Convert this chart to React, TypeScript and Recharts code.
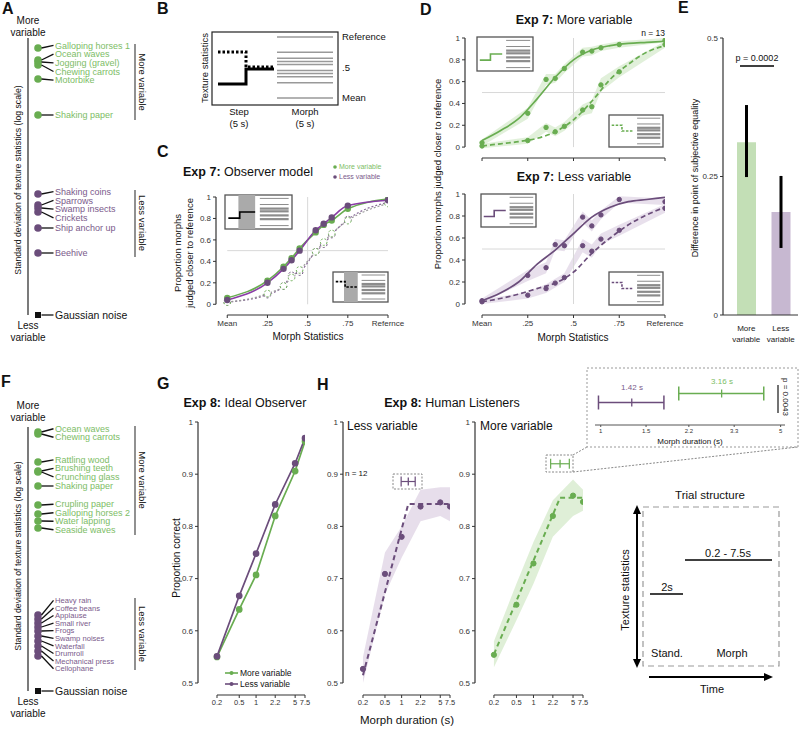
import React from "react";
import {
  ComposedChart,
  ScatterChart,
  BarChart,
  Scatter,
  Line,
  Area,
  Bar,
  Cell,
  XAxis,
  YAxis,
  ReferenceLine,
  ErrorBar,
} from "recharts";

const FONT = '"Liberation Sans", Arial, Helvetica, sans-serif';
const GREEN = "#69ad51";
const PURPLE = "#6b4d7b";
const GREEN_TXT = "#7dbd66";
const PURPLE_TXT = "#7a5a8b";
const GREEN_BAND = "#dcedd3";
const PURPLE_BAND = "#e4dae9";
const AXIS = "#333";

// A: exp 7 textures, log SD (arbitrary units)
const aMoreNames = ["Galloping horses 1", "Ocean waves", "Jogging (gravel)", "Chewing carrots", "Motorbike", "Shaking paper"];
const aMoreSd = [27.0, 25.8, 25.6, 25.3, 23.9, 20.3];
const aLessNames = ["Shaking coins", "Sparrows", "Swamp insects", "Crickets", "Ship anchor up", "Beehive"];
const aLessSd = [12.4, 11.3, 11.0, 10.6, 9.0, 6.5];
const aNoiseSd = 0.3;

// F: exp 8 textures
const fMoreNames = ["Ocean waves", "Chewing carrots", "Rattling wood", "Brushing teeth", "Crunching glass", "Shaking paper", "Crupling paper", "Galloping horses 2", "Water lapping", "Seaside waves"];
const fMoreSd = [25.9, 25.7, 22.9, 22.0, 21.9, 20.5, 18.6, 17.7, 17.0, 16.3];
const fLessNames = ["Heavy rain", "Coffee beans", "Applause", "Small river", "Frogs", "Swamp noises", "Waterfall", "Drumroll", "Mechanical press", "Cellophane"];
const fLessSd = [7.6, 7.2, 6.8, 6.4, 6.0, 5.5, 5.0, 4.5, 4.0, 3.5];
const fNoiseSd = 0;

// B/C/D: morph levels
const morphX = [0, 0.25, 0.35, 0.4, 0.45, 0.55, 0.6, 0.65, 0.75, 1];
const fitX = [0, 0.1, 0.2, 0.3, 0.4, 0.5, 0.6, 0.7, 0.8, 0.9, 1];
const morphTicks = [0, 0.25, 0.5, 0.75, 1];
const morphTickLabelsC = ["Mean", ".25", ".5", ".75", "Refernce"];
const morphTickLabelsD = ["Mean", ".25", ".5", ".75", "Reference"];
const propTicks = [0, 0.2, 0.4, 0.6, 0.8, 1];

// C: observer model
const cMoreStep = [0.06, 0.22, 0.35, 0.43, 0.52, 0.67, 0.74, 0.78, 0.89, 0.98];
const cLessStep = [0.04, 0.2, 0.33, 0.41, 0.5, 0.69, 0.75, 0.81, 0.92, 0.97];
const cMoreMorph = [0.02, 0.1, 0.17, 0.25, 0.32, 0.49, 0.58, 0.66, 0.78, 0.94];
const cLessMorph = [0.02, 0.09, 0.17, 0.27, 0.3, 0.49, 0.56, 0.65, 0.79, 0.95];

// D: listeners
const dMoreStep = [0.04, 0.31, 0.62, 0.63, 0.72, 0.87, 0.88, 0.91, 0.94, 0.98];
const dMoreStepErr = [0.03, 0.05, 0.05, 0.04, 0.04, 0.04, 0.04, 0.03, 0.03, 0.02];
const dMoreMorph = [0.01, 0.06, 0.18, 0.14, 0.19, 0.34, 0.37, 0.57, 0.69, 0.94];
const dMoreMorphErr = [0.02, 0.03, 0.04, 0.04, 0.04, 0.05, 0.06, 0.06, 0.05, 0.03];
const dMoreFit = [0.06, 0.15, 0.26, 0.44, 0.64, 0.8, 0.89, 0.93, 0.95, 0.96, 0.97];
const dMoreMorphFit = [0.01, 0.03, 0.05, 0.08, 0.14, 0.25, 0.42, 0.62, 0.76, 0.87, 0.93];
const dLessStep = [0.03, 0.26, 0.33, 0.54, 0.53, 0.79, 0.71, 0.81, 0.95, 0.93];
const dLessStepErr = [0.02, 0.05, 0.05, 0.05, 0.05, 0.05, 0.05, 0.04, 0.03, 0.03];
const dLessMorph = [0.02, 0.08, 0.14, 0.19, 0.24, 0.53, 0.48, 0.59, 0.67, 0.87];
const dLessMorphErr = [0.02, 0.03, 0.04, 0.04, 0.04, 0.06, 0.06, 0.05, 0.05, 0.04];
const dLessFit = [0.03, 0.1, 0.2, 0.36, 0.49, 0.64, 0.79, 0.88, 0.93, 0.95, 0.97];
const dLessMorphFit = [0.02, 0.05, 0.09, 0.14, 0.19, 0.29, 0.46, 0.6, 0.72, 0.81, 0.88];

// E: PSE difference
const eGroups = ["More", "Less"];
const ePse = [0.312, 0.186];
const eErrLow = [0.063, 0.065];
const eErrHigh = [0.067, 0.065];
const eColors = ["#c3dfb6", "#c7b8d1"];

// G/H: morph duration
const durX = [0.2, 0.5, 1, 2.2, 5, 7.5];
const corrTicks = [0.5, 0.6, 0.7, 0.8, 0.9, 1];
const gMore = [0.55, 0.641, 0.707, 0.82, 0.906, 0.963];
const gLess = [0.551, 0.667, 0.748, 0.842, 0.921, 0.969];
const hLessMean = [0.527, 0.709, 0.78, 0.838, 0.846, 0.838];
const hLessLo = [0.5, 0.67, 0.74, 0.81, 0.82, 0.81];
const hLessHi = [0.55, 0.75, 0.8, 0.87, 0.875, 0.875];
const hMoreMean = [0.554, 0.65, 0.729, 0.82, 0.859, 0.847];
const hMoreLo = [0.53, 0.62, 0.69, 0.78, 0.82, 0.83];
const hMoreHi = [0.58, 0.69, 0.77, 0.85, 0.89, 0.87];
// breakpoint [mid, lo, hi] and broken-stick fit ends
const hLessBreak = [1.32, 0.98, 1.76];
const hMoreBreak = [2.95, 2.01, 4.3];
const hLessFitStart = 0.515;
const hLessPlateau = 0.843;
const hMoreFitStart = 0.555;
const hMorePlateau = 0.855;
const breakLabels = ["1.42 s", "3.16 s"];
const insetTicks = [1, 1.5, 2.2, 3.3, 5];

const pts = (xs: number[], ys: number[]) => xs.map((x, i) => ({ x, y: ys[i] }));
const bandErr = (xs: number[], ys: number[], err: number[]) =>
  xs.map((x, i) => ({ x, band: [ys[i] - err[i], ys[i] + err[i]] }));
const bandLoHi = (xs: number[], lo: number[], hi: number[]) => xs.map((x, i) => ({ x, band: [lo[i], hi[i]] }));
const fmtProp = (v: number) => (v === 0 || v === 1 ? String(v) : v.toFixed(1));
const fmtCorr = (v: number) => (v === 1 ? "1" : v.toFixed(1));

// push overlapping labels apart (values sorted high to low)
function spreadLabels(vals: number[], gap: number): number[] {
  const pos = [...vals];
  for (let it = 0; it < 300; it++) {
    for (let i = 1; i < pos.length; i++) {
      const d = pos[i - 1] - pos[i];
      if (d < gap) {
        const push = (gap - d) / 2;
        pos[i - 1] += push;
        pos[i] -= push;
      }
    }
  }
  return pos;
}

function buildItems(names: string[], sds: number[], gap: number, kind: string, size: number) {
  const lbl = spreadLabels(sds, gap);
  return names.map((name, i) => ({ name, sd: sds[i], label: lbl[i], x: 0.625, kind, size }));
}

const aItems = [
  ...buildItems(aMoreNames, aMoreSd, 0.87, "more", 9),
  ...buildItems(aLessNames, aLessSd, 0.87, "less", 9),
  { name: "Gaussian noise", sd: aNoiseSd, label: aNoiseSd, x: 0.625, kind: "noise", size: 10.5 },
];
const fItems = [
  ...buildItems(fMoreNames, fMoreSd, 0.85, "more", 9),
  ...buildItems(fLessNames, fLessSd, 0.76, "less", 7.6),
  { name: "Gaussian noise", sd: fNoiseSd, label: fNoiseSd, x: 0.625, kind: "noise", size: 10.5 },
];

function ListMark(p: any) {
  const { cx, cy, payload, scale } = p;
  const ly = cy + (payload.sd - payload.label) * scale;
  const lx = cx + 17;
  const noise = payload.kind === "noise";
  const col = noise ? "#111" : payload.kind === "more" ? GREEN : PURPLE;
  const tcol = noise ? "#111" : payload.kind === "more" ? GREEN_TXT : PURPLE_TXT;
  return (
    <g>
      {noise ? (
        <rect x={cx - 3} y={cy - 3} width={6} height={6} fill={col} />
      ) : (
        <circle cx={cx} cy={cy} r={3.8} fill={col} />
      )}
      <line x1={cx + 3.5} y1={cy} x2={lx - 1.5} y2={ly} stroke="#111" strokeWidth={1.3} />
      <text x={lx} y={ly} dy="0.35em" fontSize={payload.size} fill={tcol}>
        {payload.name}
      </text>
    </g>
  );
}

function ListPanel({ top, height, marginTop, domain, items }: any) {
  const plotH = height - marginTop - 25;
  const scale = plotH / (domain[1] - domain[0]);
  return (
    <div style={{ position: "absolute", left: 0, top }}>
      <ScatterChart width={195} height={height} margin={{ top: marginTop, right: 7, bottom: 25, left: 28 }}>
        <XAxis type="number" dataKey="x" domain={[0, 10]} hide />
        <YAxis type="number" dataKey="sd" domain={domain} hide />
        <ReferenceLine
          segment={[{ x: 0, y: domain[0] }, { x: 0, y: domain[1] }]}
          stroke={AXIS}
          strokeWidth={1.3}
          ifOverflow="visible"
        />
        <Scatter data={items} shape={(p: any) => <ListMark {...p} scale={scale} />} isAnimationActive={false} />
      </ScatterChart>
    </div>
  );
}

// offset (matlab style) axis lines
function axisRefs(yLineX: number, xLineY: number, x0: number, x1: number, y0: number, y1: number) {
  return [
    <ReferenceLine key="ax" segment={[{ x: x0, y: xLineY }, { x: x1, y: xLineY }]} stroke={AXIS} strokeWidth={1.2} ifOverflow="visible" />,
    <ReferenceLine key="ay" segment={[{ x: yLineX, y: y0 }, { x: yLineX, y: y1 }]} stroke={AXIS} strokeWidth={1.2} ifOverflow="visible" />,
  ];
}

function halfGrid() {
  return [
    <ReferenceLine key="gv" segment={[{ x: 0.5, y: 0 }, { x: 0.5, y: 1 }]} stroke="#d8d8d8" ifOverflow="visible" />,
    <ReferenceLine key="gh" segment={[{ x: 0, y: 0.5 }, { x: 1, y: 0.5 }]} stroke="#d8d8d8" ifOverflow="visible" />,
  ];
}

function PanelC() {
  const openDot = (c: string) => ({ r: 3.3, fill: "#fff", stroke: c, strokeWidth: 1 });
  return (
    <div style={{ position: "absolute", left: 194, top: 192 }}>
      <ComposedChart width={214} height={143} margin={{ top: 5, right: 20, bottom: 0, left: 0 }}>
        <XAxis
          type="number"
          dataKey="x"
          domain={[-0.07, 1]}
          allowDataOverflow
          ticks={morphTicks}
          interval={0}
          tickFormatter={(v: number) => morphTickLabelsC[morphTicks.indexOf(v)]}
          axisLine={false}
          tickSize={3}
          height={20}
          tick={{ fontSize: 8, fill: AXIS }}
          tickLine={{ stroke: AXIS }}
        />
        <YAxis
          type="number"
          domain={[-0.1, 1]}
          allowDataOverflow
          ticks={propTicks}
          interval={0}
          width={22}
          axisLine={false}
          tickSize={3}
          tickFormatter={fmtProp}
          tick={{ fontSize: 8, fill: AXIS }}
          tickLine={{ stroke: AXIS }}
        />
        {halfGrid()}
        {axisRefs(-0.07, -0.1, 0, 1, 0, 1)}
        <Line data={pts(morphX, cLessMorph)} dataKey="y" type="monotone" stroke="#8a6b99" strokeWidth={1.2} strokeDasharray="2 2" dot={openDot(PURPLE)} isAnimationActive={false} />
        <Line data={pts(morphX, cMoreMorph)} dataKey="y" type="monotone" stroke="#999" strokeWidth={1.2} strokeDasharray="2 2" dot={openDot(GREEN)} isAnimationActive={false} />
        <Line data={pts(morphX, cMoreStep)} dataKey="y" type="monotone" stroke={GREEN} strokeWidth={1.6} dot={{ r: 2.4, fill: GREEN, stroke: GREEN }} isAnimationActive={false} />
        <Line data={pts(morphX, cLessStep)} dataKey="y" type="monotone" stroke="#8a3ca6" strokeWidth={1.6} dot={{ r: 2.4, fill: PURPLE, stroke: PURPLE }} isAnimationActive={false} />
      </ComposedChart>
    </div>
  );
}

function PanelD({ top, height, showLabels, color, band, step, stepErr, morph, morphErr, fit, morphFit }: any) {
  return (
    <div style={{ position: "absolute", left: 443, top }}>
      <ComposedChart width={246} height={height} margin={{ top: 5, right: 24, bottom: 0, left: 0 }}>
        <XAxis
          type="number"
          dataKey="x"
          domain={[-0.093, 1]}
          allowDataOverflow
          ticks={morphTicks}
          interval={0}
          tickFormatter={(v: number) => (showLabels ? morphTickLabelsD[morphTicks.indexOf(v)] : "")}
          axisLine={false}
          tickSize={3}
          height={showLabels ? 20 : 18}
          tick={{ fontSize: 8, fill: AXIS }}
          tickLine={{ stroke: AXIS }}
        />
        <YAxis
          type="number"
          domain={[-0.1, 1]}
          allowDataOverflow
          ticks={propTicks}
          interval={0}
          width={22}
          axisLine={false}
          tickSize={3}
          tickFormatter={fmtProp}
          tick={{ fontSize: 8, fill: AXIS }}
          tickLine={{ stroke: AXIS }}
        />
        {halfGrid()}
        {axisRefs(-0.093, -0.1, 0, 1, 0, 1)}
        <Area data={bandErr(morphX, morph, morphErr)} dataKey="band" type="linear" stroke="none" fill={band} fillOpacity={0.85} isAnimationActive={false} />
        <Area data={bandErr(morphX, step, stepErr)} dataKey="band" type="linear" stroke="none" fill={band} fillOpacity={0.85} isAnimationActive={false} />
        <Line data={pts(fitX, fit)} dataKey="y" type="monotone" stroke={color} strokeWidth={1.7} dot={false} isAnimationActive={false} />
        <Line data={pts(fitX, morphFit)} dataKey="y" type="monotone" stroke={color} strokeWidth={1.7} strokeDasharray="5 3" dot={false} isAnimationActive={false} />
        <Line data={pts(morphX, step)} dataKey="y" stroke="none" dot={{ r: 2.2, fill: color, stroke: color }} isAnimationActive={false} />
        <Line data={pts(morphX, morph)} dataKey="y" stroke="none" dot={{ r: 2.2, fill: color, stroke: color }} isAnimationActive={false} />
      </ComposedChart>
    </div>
  );
}

function ETick(p: any) {
  return (
    <g transform={`translate(${p.x},${p.y})`}>
      <text y={8} textAnchor="middle" fontSize={8} fill="#222">
        {p.payload.value}
      </text>
      <text y={19} textAnchor="middle" fontSize={8} fill="#222">
        variable
      </text>
    </g>
  );
}

function PanelE() {
  const data = eGroups.map((name, i) => ({ name, value: ePse[i], err: [eErrLow[i], eErrHigh[i]] }));
  return (
    <div style={{ position: "absolute", left: 701, top: 33 }}>
      <BarChart width={99} height={312} data={data} margin={{ top: 5, right: 2, bottom: 0, left: 0 }}>
        <XAxis
          dataKey="name"
          height={30}
          interval={0}
          tick={<ETick />}
          tickLine={false}
          padding={{ left: 6, right: 0 }}
          axisLine={{ stroke: AXIS }}
        />
        <YAxis
          type="number"
          domain={[0, 0.5]}
          ticks={[0, 0.25, 0.5]}
          width={22}
          tickSize={3}
          tickFormatter={(v: number) => String(v)}
          tick={{ fontSize: 8, fill: AXIS }}
          axisLine={{ stroke: AXIS, strokeWidth: 1.2 }}
          tickLine={{ stroke: AXIS }}
        />
        <Bar dataKey="value" barSize={19} isAnimationActive={false}>
          {data.map((d, i) => (
            <Cell key={d.name} fill={eColors[i]} />
          ))}
          <ErrorBar dataKey="err" width={0} stroke="#000" strokeWidth={3} direction="y" />
        </Bar>
      </BarChart>
    </div>
  );
}

function durAxes(domainMin: number) {
  return [
    <XAxis
      key="x"
      type="number"
      dataKey="x"
      scale="log"
      domain={[domainMin, 7.5]}
      allowDataOverflow
      ticks={durX}
      interval={0}
      axisLine={false}
      tickSize={3}
      height={18}
      tick={{ fontSize: 7.5, fill: AXIS }}
      tickLine={{ stroke: AXIS }}
      tickFormatter={(v: number) => String(v)}
    />,
    <YAxis
      key="y"
      type="number"
      domain={[0.477, 1]}
      allowDataOverflow
      ticks={corrTicks}
      interval={0}
      width={24}
      axisLine={false}
      tickSize={3}
      tick={{ fontSize: 8, fill: AXIS }}
      tickLine={{ stroke: AXIS }}
      tickFormatter={fmtCorr}
    />,
  ];
}

function PanelG() {
  return (
    <div style={{ position: "absolute", left: 174, top: 417 }}>
      <ComposedChart width={139} height={296} margin={{ top: 5, right: 8, bottom: 0, left: 0 }}>
        {durAxes(0.0915)}
        {axisRefs(0.0915, 0.477, 0.2, 7.5, 0.5, 1)}
        <Line data={pts(durX, gMore)} dataKey="y" type="linear" stroke={GREEN} strokeWidth={1.7} dot={{ r: 2.5, fill: GREEN, stroke: GREEN }} isAnimationActive={false} />
        <Line data={pts(durX, gLess)} dataKey="y" type="linear" stroke={PURPLE} strokeWidth={1.7} dot={{ r: 2.5, fill: PURPLE, stroke: PURPLE }} isAnimationActive={false} />
      </ComposedChart>
    </div>
  );
}

const tickShape = (c: string) => (p: any) => (
  <line x1={p.cx} x2={p.cx} y1={p.cy - 4} y2={p.cy + 4} stroke={c} strokeWidth={1.3} />
);

function PanelH({ left, width, domainMin, color, band, mean, lo, hi, brk, brkY, fitStart, plateau }: any) {
  const fit = [
    { x: durX[0], y: fitStart },
    { x: brk[0], y: plateau },
    { x: durX[durX.length - 1], y: plateau },
  ];
  const bp = [{ x: brk[0], y: brkY, err: [brk[0] - brk[1], brk[2] - brk[0]] }];
  return (
    <div style={{ position: "absolute", left, top: 417 }}>
      <ComposedChart width={width} height={296} margin={{ top: 5, right: 8, bottom: 0, left: 0 }}>
        {durAxes(domainMin)}
        {axisRefs(domainMin, 0.477, 0.2, 7.5, 0.5, 1)}
        <Area data={bandLoHi(durX, lo, hi)} dataKey="band" type="linear" stroke="none" fill={band} fillOpacity={0.9} isAnimationActive={false} />
        <Line data={fit} dataKey="y" type="linear" stroke={color} strokeWidth={2} strokeDasharray="5 3.5" dot={false} isAnimationActive={false} />
        <Line data={pts(durX, mean)} dataKey="y" stroke="none" dot={{ r: 2.6, fill: color, stroke: color }} isAnimationActive={false} />
        <Scatter data={bp} dataKey="y" shape={tickShape(color)} isAnimationActive={false}>
          <ErrorBar dataKey="err" direction="x" width={5} stroke={color} strokeWidth={1.2} />
        </Scatter>
      </ComposedChart>
    </div>
  );
}

function BreakInset() {
  const less = [{ x: hLessBreak[0], y: 0.5, err: [hLessBreak[0] - hLessBreak[1], hLessBreak[2] - hLessBreak[0]] }];
  const more = [{ x: hMoreBreak[0], y: 0.7, err: [hMoreBreak[0] - hMoreBreak[1], hMoreBreak[2] - hMoreBreak[0]] }];
  return (
    <div style={{ position: "absolute", left: 590, top: 375 }}>
      <ScatterChart width={207} height={62} margin={{ top: 5, right: 12, bottom: 0, left: 5 }}>
        <XAxis
          type="number"
          dataKey="x"
          scale="log"
          domain={[0.95, 5.2]}
          allowDataOverflow
          ticks={insetTicks}
          interval={0}
          height={12}
          tickSize={2}
          tick={{ fontSize: 6, fill: AXIS }}
          axisLine={{ stroke: "#555" }}
          tickLine={{ stroke: "#555" }}
          tickFormatter={(v: number) => String(v)}
        />
        <YAxis type="number" dataKey="y" domain={[0, 1]} hide />
        <Scatter data={less} shape={tickShape(PURPLE)} isAnimationActive={false}>
          <ErrorBar dataKey="err" direction="x" width={7} stroke={PURPLE} strokeWidth={1.5} />
        </Scatter>
        <Scatter data={more} shape={tickShape(GREEN)} isAnimationActive={false}>
          <ErrorBar dataKey="err" direction="x" width={7} stroke={GREEN} strokeWidth={1.5} />
        </Scatter>
      </ScatterChart>
    </div>
  );
}

function T({ x, y, children, size = 9, anchor = "middle", fill = "#111", weight, rotate }: any) {
  if (rotate)
    return (
      <text transform={`translate(${x},${y}) rotate(${rotate})`} textAnchor={anchor} dy="0.35em" fontSize={size} fill={fill} fontWeight={weight}>
        {children}
      </text>
    );
  return (
    <text x={x} y={y} dy="0.35em" textAnchor={anchor} fontSize={size} fill={fill} fontWeight={weight}>
      {children}
    </text>
  );
}

function Title({ x, y, bold, rest }: any) {
  return (
    <text x={x} y={y} dy="0.35em" textAnchor="middle" fontSize={12.5} fill="#111">
      <tspan fontWeight="bold">{bold}</tspan>
      {" " + rest}
    </text>
  );
}

function StepInset({ x, y, w, h, color, dashed, shade }: any) {
  const sx0 = x + w * 0.05;
  const sx1 = x + w * (shade ? 0.22 : 0.24);
  const sx2 = x + w * 0.45;
  const y0 = dashed ? y + h * 0.32 : y + h * 0.68;
  const midY = y + h * 0.5;
  const lineF = [0.1, 0.28, 0.4, 0.48, 0.6, 0.71, 0.9];
  return (
    <g>
      <rect x={x} y={y} width={w} height={h} fill="#fff" stroke="#555" strokeWidth={1.3} />
      {shade && <rect x={x + w * 0.2} y={y} width={w * 0.25} height={h} fill="#aaa" />}
      <polyline
        points={`${sx0},${y0} ${sx1},${y0} ${sx1},${midY} ${sx2},${midY}`}
        fill="none"
        stroke={color}
        strokeWidth={1.6}
        strokeDasharray={dashed ? "2.5 1.5" : undefined}
      />
      {lineF.map((f) => (
        <line key={f} x1={x + w * 0.52} x2={x + w * 0.95} y1={y + h * f} y2={y + h * f} stroke="#8c8c8c" strokeWidth={f > 0.35 && f < 0.75 ? 2.2 : 1} />
      ))}
    </g>
  );
}

function Overlay() {
  const bY = (v: number) => 98 - v * 61;
  return (
    <svg width={800} height={729} style={{ position: "absolute", left: 0, top: 0, pointerEvents: "none" }}>
      {/* panel letters */}
      {[
        ["A", 2, 8],
        ["B", 157, 8],
        ["C", 157, 151],
        ["D", 420, 9],
        ["E", 678, 7],
        ["F", 1, 381],
        ["G", 157, 383],
        ["H", 317, 384],
      ].map(([l, x, y]) => (
        <T key={l as string} x={x} y={y} size={16} weight="bold" anchor="start">
          {l}
        </T>
      ))}

      {/* A / F annotations */}
      <T x={28} y={20} size={10}>More</T>
      <T x={28} y={32} size={10}>variable</T>
      <T x={28} y={325} size={10}>Less</T>
      <T x={28} y={337} size={10}>variable</T>
      <T x={18} y={180} size={8.7} rotate={-90}>Standard deviation of texture statistics (log scale)</T>
      <line x1={135} x2={135} y1={44} y2={120} stroke="#555" strokeWidth={1.3} />
      <T x={142} y={82} size={9.5} rotate={90}>More variable</T>
      <line x1={135} x2={135} y1={190} y2={257} stroke="#555" strokeWidth={1.3} />
      <T x={142} y={223} size={9.5} rotate={90}>Less variable</T>

      <T x={28} y={405} size={10}>More</T>
      <T x={28} y={417} size={10}>variable</T>
      <T x={28} y={701} size={10}>Less</T>
      <T x={28} y={713} size={10}>variable</T>
      <T x={18} y={556} size={8.7} rotate={-90}>Standard deviation of texture statistics (log scale)</T>
      <line x1={135} x2={135} y1={426} y2={535} stroke="#555" strokeWidth={1.3} />
      <T x={142} y={480} size={9.5} rotate={90}>More variable</T>
      <line x1={135} x2={135} y1={598} y2={670} stroke="#555" strokeWidth={1.3} />
      <T x={142} y={634} size={9.5} rotate={90}>Less variable</T>

      {/* B schematic */}
      <rect x={212} y={32} width={126} height={73} fill="none" stroke="#222" strokeWidth={1.2} />
      {morphX.map((v) => (
        <line key={v} x1={277} x2={333} y1={bY(v)} y2={bY(v)} stroke="#999" strokeWidth={1.5} />
      ))}
      <polyline points={`218,84 246,84 246,69 274,69`} fill="none" stroke="#000" strokeWidth={3} />
      <polyline points={`218,52 246,52 246,67 274,67`} fill="none" stroke="#000" strokeWidth={3} strokeDasharray="2.5 2" />
      <T x={205} y={68} size={9.5} rotate={-90}>Texture statistics</T>
      <T x={342} y={37} size={9.5} anchor="start">Reference</T>
      <T x={342} y={68} size={9.5} anchor="start">.5</T>
      <T x={342} y={98} size={9.5} anchor="start">Mean</T>
      <T x={239} y={112} size={9.5}>Step</T>
      <T x={239} y={124} size={9.5}>(5 s)</T>
      <T x={305} y={112} size={9.5}>Morph</T>
      <T x={305} y={124} size={9.5}>(5 s)</T>

      {/* C */}
      <Title x={248} y={172} bold="Exp 7:" rest="Observer model" />
      <circle cx={335} cy={167} r={1.8} fill={GREEN} />
      <T x={339} y={167} size={7} anchor="start" fill={GREEN_TXT}>More variable</T>
      <circle cx={335} cy={177} r={1.8} fill={PURPLE} />
      <T x={339} y={177} size={7} anchor="start" fill={PURPLE_TXT}>Less variable</T>
      <T x={178} y={253} size={9.5} rotate={-90}>Proportion morphs</T>
      <T x={190} y={253} size={9.5} rotate={-90}>judged closer to reference</T>
      <T x={308} y={336} size={10}>Morph Statistics</T>
      <StepInset x={225} y={195} w={67} h={34} color="#000" shade />
      <StepInset x={333} y={272} w={55} h={30} color="#000" dashed shade />

      {/* D */}
      <Title x={574} y={20} bold="Exp 7:" rest="More variable" />
      <Title x={574} y={177} bold="Exp 7:" rest="Less variable" />
      <T x={665} y={33} size={8.5} anchor="end">n = 13</T>
      <T x={438} y={174} size={9.5} rotate={-90}>Proportion morphs judged closer to reference</T>
      <T x={573} y={337} size={10}>Morph Statistics</T>
      <StepInset x={477} y={37} w={56} h={34} color={GREEN} />
      <StepInset x={609} y={115} w={54} h={32} color={GREEN} dashed />
      <StepInset x={481} y={194} w={55} h={33} color={PURPLE} />
      <StepInset x={609} y={272} w={54} h={33} color={PURPLE} dashed />

      {/* E */}
      <T x={757} y={58} size={9}>p = 0.0002</T>
      <line x1={740} x2={774} y1={66} y2={66} stroke="#000" strokeWidth={1.5} />
      <T x={695} y={178} size={9} rotate={-90}>Difference in point of subjective equality</T>

      {/* G */}
      <Title x={245} y={403} bold="Exp 8:" rest="Ideal Observer" />
      <T x={176} y={558} size={10} rotate={-90}>Proportion correct</T>
      <line x1={225} x2={238} y1={673} y2={673} stroke={GREEN} strokeWidth={1.6} />
      <circle cx={231.5} cy={673} r={2} fill={GREEN} />
      <T x={240} y={673} size={8.5} anchor="start">More variable</T>
      <line x1={225} x2={238} y1={684} y2={684} stroke={PURPLE} strokeWidth={1.6} />
      <circle cx={231.5} cy={684} r={2} fill={PURPLE} />
      <T x={240} y={684} size={8.5} anchor="start">Less variable</T>

      {/* H */}
      <Title x={452} y={403} bold="Exp 8:" rest="Human Listeners" />
      <T x={347} y={426} size={12} anchor="start">Less variable</T>
      <T x={480} y={426} size={12} anchor="start">More variable</T>
      <T x={345} y={473} size={8} anchor="start">n = 12</T>
      <rect x={393} y={474} width={29} height={15} fill="none" stroke="#888" strokeDasharray="2 1.5" />
      <rect x={546} y={455} width={27} height={17} fill="none" stroke="#888" strokeDasharray="2 1.5" />
      <T x={407} y={720} size={11.5}>Morph duration (s)</T>
      <line x1={573} y1={455} x2={587} y2={447} stroke="#888" strokeDasharray="2 1.5" />
      <line x1={573} y1={472} x2={798} y2={447} stroke="#888" strokeDasharray="2 1.5" />
      <rect x={587} y={368} width={211} height={79} fill="none" stroke="#999" strokeDasharray="2 2" />
      <T x={632} y={387} size={8} fill={PURPLE_TXT}>{breakLabels[0]}</T>
      <T x={722} y={381} size={8} fill={GREEN_TXT}>{breakLabels[1]}</T>
      <line x1={778} x2={778} y1={385} y2={413} stroke="#444" strokeWidth={1.5} />
      <T x={786} y={397} size={8} rotate={90}>p = 0.0043</T>
      <T x={690} y={441} size={8}>Morph duration (s)</T>

      {/* trial structure */}
      <T x={710} y={495} size={11.5}>Trial structure</T>
      <rect x={643} y={507} width={136} height={159} fill="none" stroke="#999" strokeWidth={1.2} strokeDasharray="6 4" />
      <line x1={637} x2={637} y1={512} y2={661} stroke="#000" strokeWidth={2} />
      <polygon points="637,505 633,514 641,514" fill="#000" />
      <polygon points="637,668 633,659 641,659" fill="#000" />
      <T x={625} y={590} size={11} rotate={-90}>Texture statistics</T>
      <line x1={649} x2={766} y1={677} y2={677} stroke="#000" strokeWidth={2} />
      <polygon points="773,677 764,673 764,681" fill="#000" />
      <T x={712} y={689} size={11}>Time</T>
      <line x1={650} x2={683} y1={594} y2={594} stroke="#000" strokeWidth={1.5} />
      <T x={667} y={587} size={11}>2s</T>
      <line x1={685} x2={772} y1={560} y2={560} stroke="#000" strokeWidth={1.5} />
      <T x={728} y={553} size={11}>0.2 - 7.5s</T>
      <T x={667} y={653} size={11}>Stand.</T>
      <T x={732} y={653} size={11}>Morph</T>
    </svg>
  );
}

export default function App() {
  return (
    <div
      style={{
        position: "absolute",
        left: 0,
        top: 0,
        width: 800,
        height: 729,
        background: "#fff",
        fontFamily: FONT,
        overflow: "hidden",
      }}
    >
      <ListPanel top={0} height={340} marginTop={38} domain={[0.3, 28]} items={aItems} />
      <ListPanel top={370} height={346} marginTop={57} domain={[0, 26.4]} items={fItems} />
      <PanelC />
      <PanelD
        top={33}
        height={143}
        showLabels={false}
        color={GREEN}
        band={GREEN_BAND}
        step={dMoreStep}
        stepErr={dMoreStepErr}
        morph={dMoreMorph}
        morphErr={dMoreMorphErr}
        fit={dMoreFit}
        morphFit={dMoreMorphFit}
      />
      <PanelD
        top={189}
        height={146}
        showLabels
        color={PURPLE}
        band={PURPLE_BAND}
        step={dLessStep}
        stepErr={dLessStepErr}
        morph={dLessMorph}
        morphErr={dLessMorphErr}
        fit={dLessFit}
        morphFit={dLessMorphFit}
      />
      <PanelE />
      <PanelG />
      <PanelH
        left={319}
        width={139}
        domainMin={0.087}
        color={PURPLE}
        band={PURPLE_BAND}
        mean={hLessMean}
        lo={hLessLo}
        hi={hLessHi}
        brk={hLessBreak}
        brkY={0.886}
        fitStart={hLessFitStart}
        plateau={hLessPlateau}
      />
      <PanelH
        left={451}
        width={140}
        domainMin={0.0926}
        color={GREEN}
        band={GREEN_BAND}
        mean={hMoreMean}
        lo={hMoreLo}
        hi={hMoreHi}
        brk={hMoreBreak}
        brkY={0.92}
        fitStart={hMoreFitStart}
        plateau={hMorePlateau}
      />
      <BreakInset />
      <Overlay />
    </div>
  );
}
